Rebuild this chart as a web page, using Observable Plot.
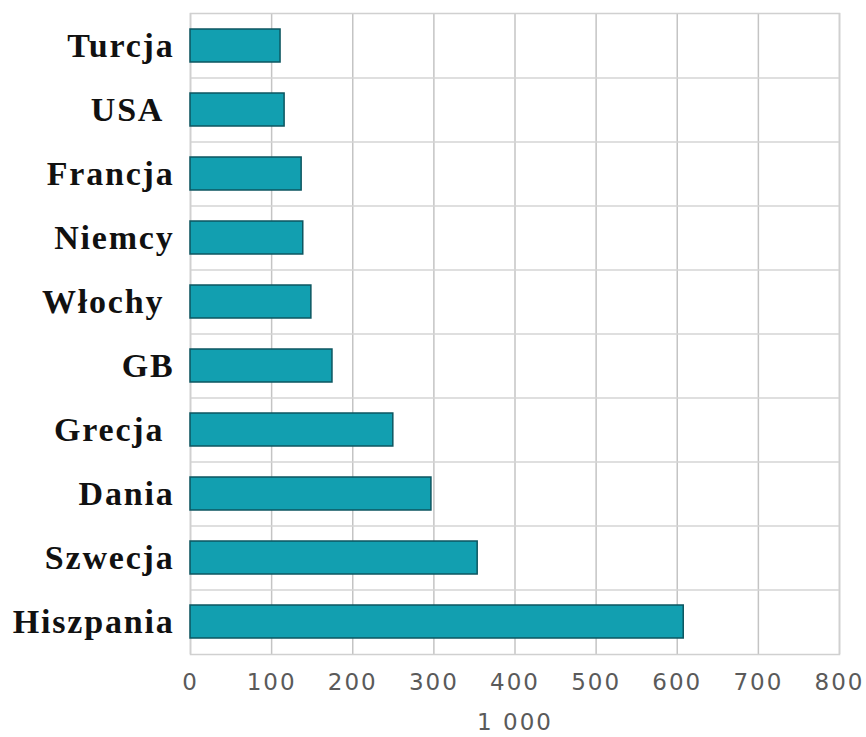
<!DOCTYPE html>
<html>
<head>
<meta charset="utf-8">
<script src="https://cdn.jsdelivr.net/npm/d3@7"></script>
<script src="https://cdn.jsdelivr.net/npm/@observablehq/plot@0.6"></script>
<style>
  html, body { margin: 0; padding: 0; background: #fff; }
  #chart g[aria-label="y-axis tick label"] text { letter-spacing: 1.8px; white-space: pre; }
  #chart g[aria-label="x-axis tick label"] text { letter-spacing: 2px; }
  #chart g[aria-label="x-axis label"] text { letter-spacing: 2px; }
</style>
</head>
<body>
<div id="chart"></div>
<script>
const countries = ["Turcja", "USA", "Francja", "Niemcy", "Włochy", "GB", "Grecja", "Dania", "Szwecja", "Hiszpania"];
// labels as printed in the original (some carry a trailing space)
const countryLabels = ["Turcja", "USA\u00a0", "Francja", "Niemcy", "Włochy\u00a0", "GB", "Grecja\u00a0", "Dania", "Szwecja", "Hiszpania"];
const values = [111, 116, 137, 139, 149, 175, 250, 297, 354, 608];
const xTicks = [0, 100, 200, 300, 400, 500, 600, 700, 800];
const xLabel = "1 000";

const data = countries.map((c, i) => ({country: c, value: values[i]}));
const labelOf = new Map(countries.map((c, i) => [c, countryLabels[i]]));

const W = 866, H = 737;
const mTop = 13, mBottom = 83, mLeft = 190, mRight = 27;
const step = (H - mTop - mBottom) / countries.length;

const chart = Plot.plot({
  width: W,
  height: H,
  marginTop: mTop,
  marginBottom: mBottom,
  marginLeft: mLeft,
  marginRight: mRight,
  style: {background: "#fff"},
  x: {domain: [0, 800], ticks: xTicks},
  y: {domain: countries, paddingInner: 0.485, paddingOuter: 0.2425},
  marks: [
    Plot.gridX(xTicks, {stroke: "#c4c4c4", strokeOpacity: 1, strokeWidth: 1.5}),
    Plot.ruleY(countries.slice(1), {y: d => d, dy: -step / 2, stroke: "#d4d4d4", strokeWidth: 1.5}),
    Plot.frame({stroke: "#d0d0d0", strokeWidth: 1.5}),
    Plot.barX(data, {x: "value", y: "country", fill: "#129fb0", stroke: "#0c5660", strokeWidth: 1.5}),
    Plot.axisY({
      tickSize: 0, tickPadding: 16,
      fontSize: 34, fontWeight: "bold", fontFamily: "Liberation Serif",
      fill: "#111", label: null,
      tickFormat: d => labelOf.get(d)
    }),
    Plot.axisX({
      ticks: xTicks, tickSize: 0, tickPadding: 19,
      fontSize: 23, fontFamily: "DejaVu Sans", fill: "#5a5a5a",
      label: null
    }),
    Plot.axisX({
      ticks: [], tickSize: 0, dx: 10,
      fontSize: 23, fontFamily: "DejaVu Sans", fill: "#5a5a5a",
      label: xLabel, labelAnchor: "center", labelArrow: "none", labelOffset: 75
    })
  ]
});
document.getElementById("chart").appendChild(chart);
</script>
</body>
</html>
